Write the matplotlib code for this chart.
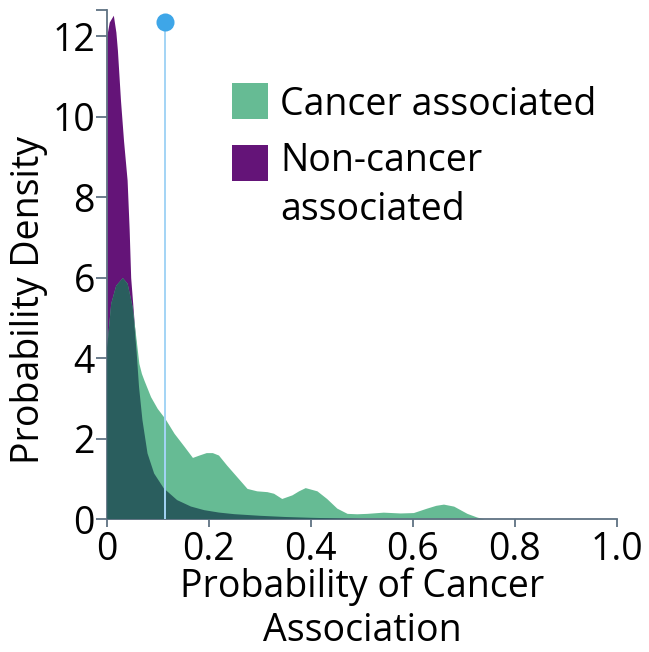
import numpy as np
import matplotlib
matplotlib.use("Agg")
import matplotlib.pyplot as plt
from matplotlib.patches import Rectangle

plt.rcParams['font.family'] = ['Open Sans', 'DejaVu Sans']

# Kernel density estimates of the predicted probability of cancer association
cancer_x = [0.0, 0.0078, 0.0176, 0.0307, 0.040, 0.050, 0.057, 0.063, 0.068, 0.073,
            0.086, 0.099, 0.114, 0.132, 0.152, 0.168, 0.181, 0.195, 0.207, 0.219,
            0.235, 0.255, 0.275, 0.294, 0.314, 0.327, 0.343, 0.363, 0.376, 0.389,
            0.412, 0.431, 0.451, 0.471, 0.490, 0.510, 0.542, 0.575, 0.601, 0.627,
            0.645, 0.660, 0.680, 0.706, 0.725, 0.740]
cancer_y = [4.28, 5.36, 5.81, 6.0, 5.86, 5.27, 4.53, 3.87, 3.62, 3.45,
            3.04, 2.75, 2.50, 2.13, 1.80, 1.53, 1.59, 1.65, 1.65, 1.59,
            1.34, 1.05, 0.76, 0.70, 0.68, 0.64, 0.51, 0.60, 0.70, 0.78,
            0.70, 0.51, 0.27, 0.14, 0.13, 0.14, 0.17, 0.15, 0.16, 0.27,
            0.34, 0.37, 0.32, 0.14, 0.05, 0.0]

noncancer_x = [0.0, 0.005, 0.013, 0.018, 0.021, 0.027, 0.033, 0.040, 0.044, 0.047,
               0.0535, 0.0588, 0.0633, 0.070, 0.080, 0.093, 0.112, 0.138, 0.165, 0.191,
               0.22, 0.25, 0.30, 0.35, 0.40, 0.45, 0.50]
noncancer_y = [12.0, 12.35, 12.52, 12.1, 11.65, 10.41, 9.4, 8.42, 7.2, 6.0,
               4.94, 4.12, 3.29, 2.46, 1.63, 1.13, 0.76, 0.47, 0.31, 0.22,
               0.16, 0.12, 0.08, 0.05, 0.03, 0.015, 0.0]

threshold = 0.115
threshold_marker_y = 12.34

x_ticks = [0, 0.2, 0.4, 0.6, 0.8, 1.0]
x_tick_labels = ["0", "0.2", "0.4", "0.6", "0.8", "1.0"]
y_ticks = [0, 2, 4, 6, 8, 10, 12]
y_tick_labels = ["0", "2", "4", "6", "8", "10", "12"]

series_labels = ["Cancer associated", "Non-cancer\nassociated"]

GREEN = "#66bb94"
PURPLE = "#641478"
OVERLAP = "#2a5e5e"
AXIS = "#5f7282"
FS = 27

W, H = 649, 652
fig = plt.figure(figsize=(W / 100, H / 100), dpi=100)
ax = fig.add_axes([106.7 / W, 1 - 519 / H, (617 - 106.7) / W, (519 - 10) / H])

purple_fill = ax.fill_between(noncancer_x, noncancer_y, 0, color=PURPLE, lw=0, zorder=1)
ax.fill_between(cancer_x, cancer_y, 0, color=GREEN, lw=0, zorder=2)
# where the two densities overlap, the green area is shown in a darker teal
overlap = ax.fill_between(cancer_x, cancer_y, 0, color=OVERLAP, lw=0, zorder=3)
overlap.set_clip_path(purple_fill.get_paths()[0], ax.transData)

ax.plot([threshold, threshold], [0, threshold_marker_y], color="#a3d4f5", lw=1.4, zorder=4,
        solid_capstyle='butt')
ax.plot([threshold], [threshold_marker_y], 'o', color="#3ea6e8", ms=13, mew=0, zorder=5,
        clip_on=False)

ax.set_xlim(0, 1.0)
ax.set_ylim(0, 12.65)
for s in ["top", "right"]:
    ax.spines[s].set_visible(False)
for s in ["left", "bottom"]:
    ax.spines[s].set_color(AXIS)
    ax.spines[s].set_linewidth(1.3)

ax.set_xticks(x_ticks)
ax.set_xticklabels(x_tick_labels)
ax.set_yticks(y_ticks + [12.65])
ax.set_yticklabels(y_tick_labels + [""])
ax.tick_params(axis='both', width=1.3, color=AXIS, labelsize=FS, labelcolor='black')
ax.tick_params(axis='x', length=6, pad=3)
ax.tick_params(axis='y', length=8, pad=0.5)

ax.set_ylabel("Probability Density", fontsize=FS)
ax.yaxis.set_label_coords(-0.115, 0.43)
ax.set_xlabel("Probability of Cancer\nAssociation", fontsize=FS, linespacing=1.2)
ax.xaxis.set_label_coords(0.5, -0.095)

# legend swatches and labels
sq = 36
fig.patches.append(Rectangle((232 / W, 1 - 119 / H), sq / W, sq / H, transform=fig.transFigure,
                             facecolor=GREEN, edgecolor='none'))
fig.patches.append(Rectangle((232 / W, 1 - 181 / H), sq / W, sq / H, transform=fig.transFigure,
                             facecolor=PURPLE, edgecolor='none'))
fig.text(280 / W, 1 - 115 / H, series_labels[0], fontsize=FS, va='baseline', ha='left')
fig.text(280 / W, 1 - 142 / H, series_labels[1], fontsize=FS, va='top', ha='left',
         linespacing=1.39)

fig.savefig("out.png", dpi=100)
